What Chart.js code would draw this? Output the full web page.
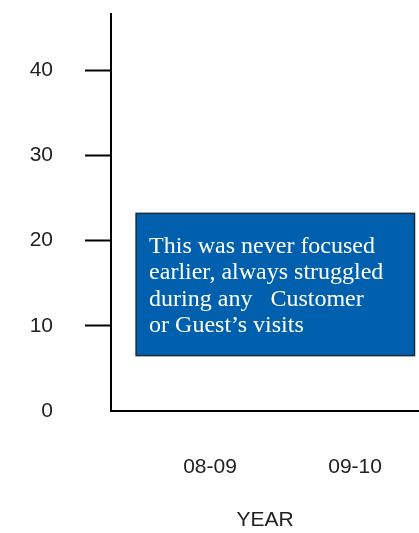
<!DOCTYPE html>
<html>
<head>
<meta charset="utf-8">
<script src="https://cdn.jsdelivr.net/npm/chart.js@4.4.0/dist/chart.umd.min.js"></script>
<style>
  html, body { margin: 0; padding: 0; background: #fff; }
  #wrap { width: 419px; height: 533px; }
</style>
</head>
<body>
<div id="wrap"><canvas id="chart"></canvas></div>
<script>
// Categories and values (no bars visible in the picture)
const years = ['08-09', '09-10'];
const values = [0, 0];
const yTicks = [0, 10, 20, 30, 40];

// Note box text, placed in data units
const noteLines = [
  'This was never focused',
  'earlier, always struggled',
  'during any   Customer',
  'or Guest\u2019s visits'
];
const noteBox = { x0: -0.51, x1: 1.41, y0: 6.5, y1: 23.2 };

// Draws the blue note box through the chart scales
const notePlugin = {
  id: 'note',
  afterDatasetsDraw(chart) {
    const { ctx, scales: { x, y } } = chart;
    const left = x.getPixelForValue(noteBox.x0);
    const right = x.getPixelForValue(noteBox.x1);
    const top = y.getPixelForValue(noteBox.y1);
    const bottom = y.getPixelForValue(noteBox.y0);
    ctx.save();
    ctx.fillStyle = '#0060ae';
    ctx.fillRect(left, top, right - left, bottom - top);
    ctx.strokeStyle = '#1a2a3a';
    ctx.lineWidth = 1.5;
    ctx.strokeRect(left, top, right - left, bottom - top);
    ctx.fillStyle = '#fff';
    ctx.font = '24px "Liberation Serif", "Times New Roman", serif';
    ctx.textBaseline = 'alphabetic';
    noteLines.forEach((line, i) => {
      ctx.fillText(line, left + 13, top + 39.5 + i * 26.4);
    });
    ctx.restore();
  }
};

const axisFont = { family: '"Liberation Sans", Arial, sans-serif', size: 21 };

new Chart(document.getElementById('chart'), {
  type: 'bar',
  data: {
    datasets: [{
      data: years.map((yr, i) => ({ x: i, y: values[i] })),
      backgroundColor: '#0060ae',
      borderWidth: 0
    }]
  },
  options: {
    responsive: true,
    maintainAspectRatio: false,
    animation: false,
    layout: { padding: { top: 14, right: 0, left: 0, bottom: 0 } },
    plugins: {
      legend: { display: false },
      tooltip: { enabled: false }
    },
    scales: {
      x: {
        type: 'linear',
        offset: false,
        min: -0.683,
        max: 1.441,
        afterBuildTicks(scale) {
          scale.ticks = years.map((yr, i) => ({ value: i }));
        },
        afterFit(scale) {
          scale.height = 122;
          scale.paddingLeft = 0;
          scale.paddingRight = 0;
        },
        ticks: {
          callback: (v) => years[v],
          color: '#222',
          font: axisFont,
          padding: 44,
          maxRotation: 0
        },
        grid: { display: false, drawTicks: false },
        border: { display: true, color: '#000', width: 2 },
        title: {
          display: true,
          text: 'YEAR',
          color: '#222',
          font: axisFont,
          padding: { top: 28, bottom: 0 }
        }
      },
      y: {
        min: 0,
        max: 46.6,
        afterBuildTicks(scale) {
          scale.ticks = yTicks.map(v => ({ value: v }));
        },
        afterFit(scale) {
          scale.width = 111;
          scale.paddingTop = 0;
          scale.paddingBottom = 0;
        },
        ticks: {
          color: '#222',
          font: axisFont,
          padding: 32
        },
        grid: {
          drawOnChartArea: false,
          tickLength: 26,
          tickWidth: 2,
          tickColor: (c) => c.tick && c.tick.value === 0 ? 'rgba(0,0,0,0)' : '#000'
        },
        border: { display: true, color: '#000', width: 2 }
      }
    }
  },
  plugins: [notePlugin]
});
</script>
</body>
</html>
